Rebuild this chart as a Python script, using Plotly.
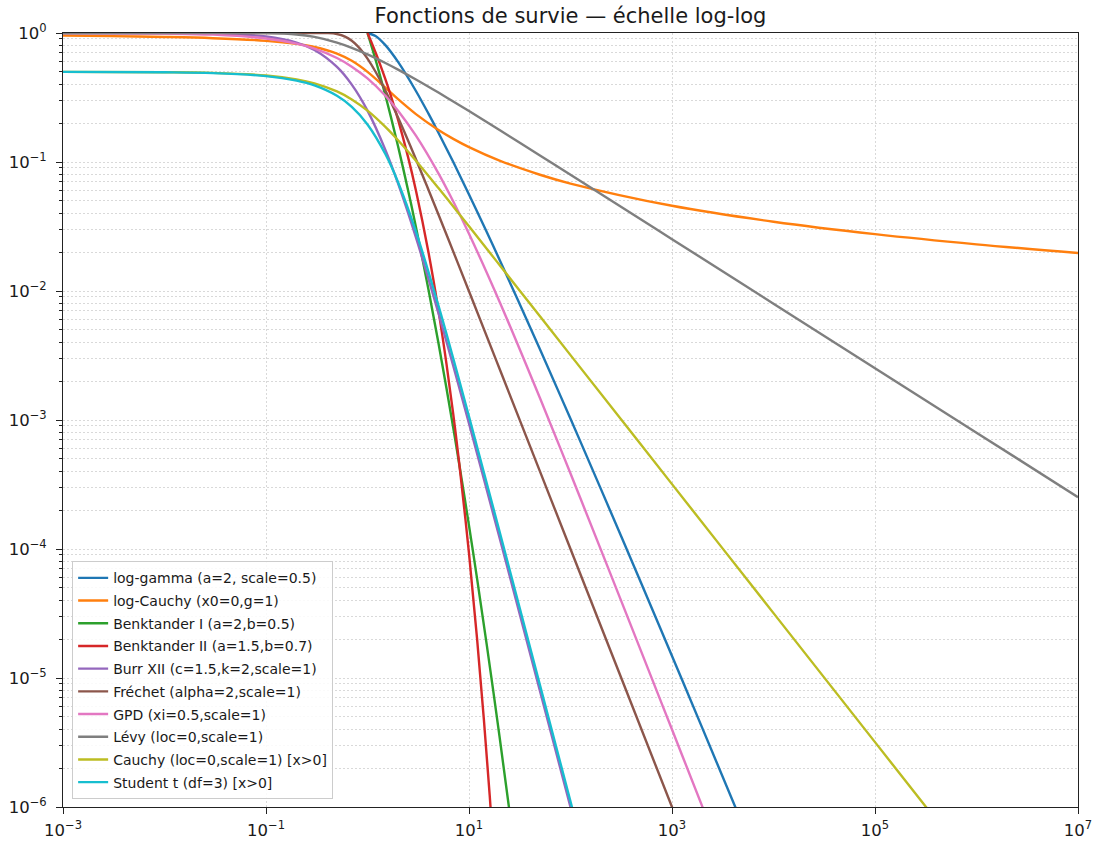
import plotly.graph_objects as go

# Survival functions S(x) = P(X > x), tabulated at selected x values.

# log-gamma (a=2, scale=0.5)
x_loggamma = [1, 1.2, 1.5, 2, 3, 4, 5, 7, 10, 15, 20, 30, 50, 100, 200, 500, 1000, 2000, 5000]
s_loggamma = [1.0, 0.94767, 0.80486, 0.596574, 0.355247, 0.235787, 0.168755, 0.099833,
              0.0560517, 0.028516, 0.0174787, 0.00866933, 0.00352962, 1.021034e-3,
              2.89916e-4, 5.37169e-5, 1.48155e-5, 4.05045e-6, 7.21375e-7]

# log-Cauchy (x0=0, g=1)
x_logcauchy = [1e-3, 3e-3, 1e-2, 0.03, 0.1, 0.2, 0.3, 0.5, 0.7, 1, 1.5, 2, 3, 5, 7, 10,
               20, 50, 100, 1e3, 1e4, 1e5, 1e6, 1e7]
s_logcauchy = [0.954238, 0.945738, 0.931937, 0.911571, 0.869587, 0.823029, 0.779377,
               0.692932, 0.609057, 0.5, 0.377384, 0.307068, 0.235054, 0.176971, 0.151105,
               0.130413, 0.102552, 0.079661, 0.068063, 0.045762, 0.034425, 0.027579,
               0.023000, 0.019723]

# Benktander I (a=2, b=0.5)
x_benk1 = [1, 1.1, 1.2, 1.3, 1.5, 1.7, 2, 2.5, 3, 4, 5, 6, 7, 8, 10, 12, 15, 20, 25, 30]
s_benk1 = [1.0, 0.78355, 0.62105, 0.497457, 0.328243, 0.223723, 0.132377, 0.0613291,
           0.0313825, 0.0101204, 0.0039539, 0.0017629, 8.66127e-4, 4.585e-4, 1.51847e-4,
           5.92035e-5, 1.78271e-5, 3.51326e-6, 9.39355e-7, 3.07685e-7]

# Benktander II (a=1.5, b=0.7)
x_benk2 = [1, 1.1, 1.2, 1.3, 1.5, 1.7, 2, 2.5, 3, 4, 5, 6, 7, 8, 10, 12, 14, 16, 18]
s_benk2 = [1.0, 0.838253, 0.707231, 0.600068, 0.438267, 0.325273, 0.213063, 0.110623,
           0.0601868, 0.0196817, 0.007076, 0.0027238, 1.10519e-3, 4.67737e-4, 9.25608e-5,
           2.03118e-5, 4.82913e-6, 1.22491e-6, 3.27899e-7]

# Burr XII (c=1.5, k=2, scale=1)
x_burr = [1e-3, 1e-2, 0.03, 0.1, 0.2, 0.3, 0.5, 0.7, 1, 1.5, 2, 3, 5, 7, 10, 20, 30, 50, 100, 150]
s_burr = [0.9999368, 0.998003, 0.989688, 0.939633, 0.84254, 0.737663, 0.54582, 0.397721,
          0.25, 0.124235, 0.0682275, 0.0260469, 6.74034e-3, 2.62439e-3, 9.39633e-4,
          1.22251e-4, 3.65902e-5, 7.95494e-6, 9.98003e-7, 2.95974e-7]

# Fréchet (alpha=2, scale=1)
x_frechet = [1e-3, 0.1, 0.2, 0.3, 0.4, 0.5, 0.6, 0.7, 0.8, 0.9, 1, 1.2, 1.5, 2, 3, 5, 7, 10,
             20, 50, 100, 1000, 1500]
s_frechet = [1.0, 1.0, 1.0, 0.999985, 0.99807, 0.981684, 0.937823, 0.87007, 0.790389,
             0.709039, 0.632121, 0.500648, 0.35882, 0.221199, 0.105161, 0.0392106,
             0.0202014, 0.00995017, 0.00249688, 3.9992e-4, 9.9995e-5, 9.999995e-7, 4.4444e-7]

# GPD (xi=0.5, scale=1)
x_gpd = [1e-3, 1e-2, 0.03, 0.1, 0.2, 0.3, 0.5, 0.7, 1, 1.5, 2, 3, 5, 7, 10, 20, 50, 100,
         200, 500, 1000, 2000, 3000]
s_gpd = [0.9990007, 0.990075, 0.970662, 0.907029, 0.826446, 0.756144, 0.64, 0.548697,
         0.444444, 0.326531, 0.25, 0.16, 0.0816327, 0.0493827, 0.0277778, 8.26446e-3,
         1.47929e-3, 3.84468e-4, 9.80296e-5, 1.58728e-5, 3.98405e-6, 9.98003e-7, 4.43853e-7]

# Lévy (loc=0, scale=1)
x_levy = [1e-3, 0.01, 0.05, 0.1, 0.2, 0.3, 0.5, 0.7, 1, 1.5, 2, 3, 5, 7, 10, 20, 50, 100,
          500, 1000, 1e4, 1e5, 1e6, 1e7]
s_levy = [1.0, 1.0, 0.999992, 0.998435, 0.974653, 0.93210, 0.842701, 0.767996, 0.682689,
          0.58578, 0.5205, 0.436294, 0.345276, 0.29454, 0.24817, 0.176937, 0.112463,
          0.079656, 0.0356706, 0.0252271, 0.00797871, 0.00252313, 7.97885e-4, 2.52313e-4]

# Cauchy (loc=0, scale=1), x > 0
x_cauchy = [1e-3, 1e-2, 0.03, 0.1, 0.2, 0.3, 0.5, 0.7, 1, 1.5, 2, 3, 5, 7, 10, 20, 50, 100,
            1000, 1e4, 1e5, 1e6]
s_cauchy = [0.499682, 0.496817, 0.490453, 0.468274, 0.437167, 0.407227, 0.352416, 0.3056,
            0.25, 0.187167, 0.147584, 0.102416, 0.062833, 0.045167, 0.031726, 0.015902,
            0.006365, 0.003183, 3.1831e-4, 3.1831e-5, 3.1831e-6, 3.1831e-7]

# Student t (df=3), x > 0
x_student = [1e-3, 1e-2, 0.03, 0.1, 0.2, 0.3, 0.5, 0.7, 1, 1.5, 2, 3, 5, 7, 10, 20, 50, 100, 150]
s_student = [0.499632, 0.496325, 0.488976, 0.463326, 0.427136, 0.391882, 0.325725, 0.267163,
             0.195501, 0.11529, 0.069661, 0.028834, 0.0076962, 0.0029931, 0.0010642,
             1.36591e-4, 8.8085e-6, 1.10226e-6, 3.2666e-7]

# Axis tick exponents
x_tick_exponents = [-3, -1, 1, 3, 5, 7]
y_tick_exponents = [-6, -5, -4, -3, -2, -1, 0]

series = [
    ("log-gamma (a=2, scale=0.5)", x_loggamma, s_loggamma, "#1f77b4"),
    ("log-Cauchy (x0=0,g=1)", x_logcauchy, s_logcauchy, "#ff7f0e"),
    ("Benktander I (a=2,b=0.5)", x_benk1, s_benk1, "#2ca02c"),
    ("Benktander II (a=1.5,b=0.7)", x_benk2, s_benk2, "#d62728"),
    ("Burr XII (c=1.5,k=2,scale=1)", x_burr, s_burr, "#9467bd"),
    ("Fréchet (alpha=2,scale=1)", x_frechet, s_frechet, "#8c564b"),
    ("GPD (xi=0.5,scale=1)", x_gpd, s_gpd, "#e377c2"),
    ("Lévy (loc=0,scale=1)", x_levy, s_levy, "#7f7f7f"),
    ("Cauchy (loc=0,scale=1) [x>0]", x_cauchy, s_cauchy, "#bcbd22"),
    ("Student t (df=3) [x>0]", x_student, s_student, "#17becf"),
]


def power_label(e):
    sign = "\u2212" if e < 0 else ""
    return f"10<sup>{sign}{abs(e)}</sup>"


fig = go.Figure()
for i, (name, xs, ys, color) in enumerate(series):
    fig.add_trace(go.Scatter(
        x=xs, y=ys, name=name, mode="lines", legendgroup=f"g{i}",
        line=dict(color=color, width=2.4, shape="spline", smoothing=1.0),
    ))

font_family = "DejaVu Sans"
text_color = "#1a1a1a"
axis_color = "#222222"
grid_color = "#d9d9d9"
grid_dash = "2px,2px"
tick_font = dict(family=font_family, size=16.5, color=text_color)

fig.update_layout(
    width=1094, height=845,
    margin=dict(l=63, r=16, t=33, b=38, autoexpand=False),
    paper_bgcolor="white", plot_bgcolor="white",
    font=dict(family=font_family, size=14, color=text_color),
    title=dict(
        text="Fonctions de survie — échelle log-log",
        font=dict(family=font_family, size=21, color=text_color),
        x=0.5, xref="paper", xanchor="center",
        y=1 - 16 / 845, yref="container", yanchor="middle",
    ),
    showlegend=True,
    legend=dict(
        x=0.009, y=0.01, xanchor="left", yanchor="bottom",
        bgcolor="rgba(255,255,255,0.85)", bordercolor="#cccccc", borderwidth=1,
        font=dict(family=font_family, size=14, color=text_color),
        itemwidth=30, tracegroupgap=1.5,
    ),
)

fig.update_xaxes(
    type="log", range=[-3, 7], automargin=False,
    tickmode="array",
    tickvals=[10.0 ** e for e in x_tick_exponents],
    ticktext=[power_label(e) for e in x_tick_exponents],
    ticks="outside", ticklen=6, tickcolor=axis_color, tickwidth=1,
    ticklabelstandoff=2,
    showline=True, linecolor=axis_color, linewidth=1, mirror=True,
    showgrid=True, gridcolor=grid_color, griddash=grid_dash, gridwidth=1,
    zeroline=False,
    tickfont=tick_font,
)
fig.update_yaxes(
    type="log", range=[-6, 0], automargin=False,
    tickmode="array",
    tickvals=[10.0 ** e for e in y_tick_exponents],
    ticktext=[power_label(e) for e in y_tick_exponents],
    ticks="outside", ticklen=6, tickcolor=axis_color, tickwidth=1,
    ticklabelstandoff=6,
    showline=True, linecolor=axis_color, linewidth=1, mirror=True,
    showgrid=True, gridcolor=grid_color, griddash=grid_dash, gridwidth=1,
    zeroline=False,
    minor=dict(
        tickmode="array",
        tickvals=[m * 10.0 ** e for e in range(-6, 0) for m in range(2, 10)],
        ticks="outside", ticklen=3, tickcolor=axis_color,
        showgrid=True, gridcolor=grid_color, griddash=grid_dash, gridwidth=1,
    ),
    tickfont=tick_font,
)

fig.write_html("out.html")
